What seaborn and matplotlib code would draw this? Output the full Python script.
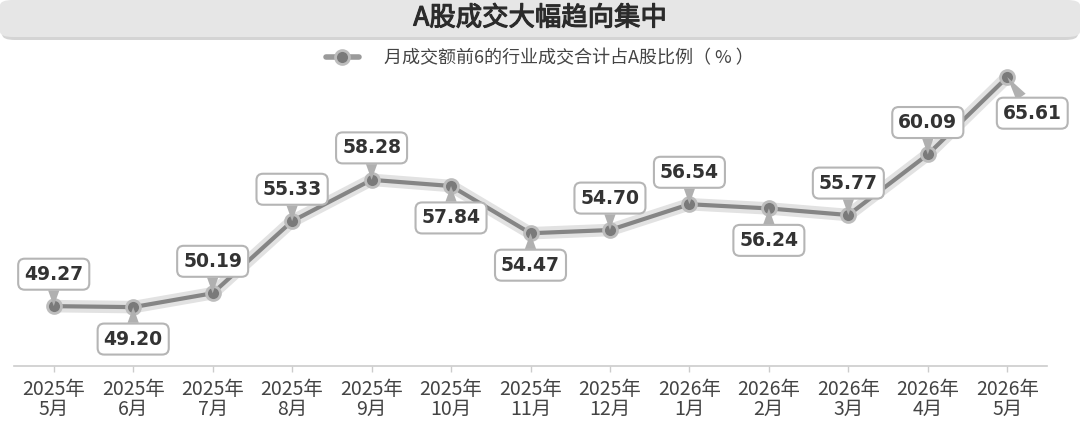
import pandas as pd
import numpy as np
import matplotlib.pyplot as plt
import matplotlib.patheffects as pe
import seaborn as sns
from matplotlib.patches import FancyBboxPatch
from matplotlib.lines import Line2D

# data
months = ['2025年\n5月', '2025年\n6月', '2025年\n7月', '2025年\n8月', '2025年\n9月',
          '2025年\n10月', '2025年\n11月', '2025年\n12月', '2026年\n1月', '2026年\n2月',
          '2026年\n3月', '2026年\n4月', '2026年\n5月']
share = [49.27, 49.20, 50.19, 55.33, 58.28, 57.84, 54.47, 54.70, 56.54, 56.24, 55.77, 60.09, 65.61]
label_side = ['up', 'down', 'up', 'up', 'up', 'down', 'down', 'up', 'up', 'down', 'up', 'up', 'down']
title = 'A股成交大幅趋向集中'
series_name = '月成交额前6的行业成交合计占A股比例（ % ）'

df = pd.DataFrame({'month': months, 'share': share})

sns.set_theme(style='white')
plt.rcParams['font.family'] = ['Noto Sans CJK SC', 'DejaVu Sans']

fig = plt.figure(figsize=(10.8, 4.44), dpi=100)
ax = fig.add_axes([14 / 1080, 78 / 444, 1033 / 1080, 305.6 / 444])

line_col = '#858585'

# glow behind the line
sns.lineplot(data=df, x='month', y='share', ax=ax, color='#e2e2e2', lw=9,
             sort=False, legend=False, solid_capstyle='round')
sns.lineplot(data=df, x='month', y='share', ax=ax, color=line_col, lw=3,
             marker='o', markersize=10, markerfacecolor='#7a7a7a',
             markeredgecolor='#bdbdbd', markeredgewidth=2, sort=False, legend=False)

ax.set_xlim(-0.5, len(months) - 0.5)
ax.set_ylim(45.0, 66.8)
ax.set_xlabel('')
ax.set_ylabel('')
ax.set_yticks([])
for s in ['top', 'right', 'left']:
    ax.spines[s].set_visible(False)
ax.spines['bottom'].set_color('#cccccc')
ax.spines['bottom'].set_linewidth(1.2)
ax.tick_params(axis='x', bottom=True, length=4, width=1, color='#cccccc',
               labelsize=14, labelcolor='#444444', pad=5)
for t in ax.get_xticklabels():
    t.set_linespacing(0.95)

# value callouts
for m, v, side, i in zip(months, share, label_side, range(len(months))):
    dx = 0
    dy = 23 if side == 'up' else -23
    if i == len(months) - 1:
        dx, dy = 18, -26
    ax.annotate(f'{v:.2f}', xy=(m, v), xytext=(dx, dy), textcoords='offset points',
                ha='center', va='center', fontsize=13.5, fontweight='bold',
                family='DejaVu Sans', color='#333333',
                bbox=dict(boxstyle='round,pad=0.32,rounding_size=0.35', fc='white',
                          ec='#b5b5b5', lw=1.5),
                arrowprops=dict(arrowstyle='wedge,tail_width=0.6,shrink_factor=0.5',
                                fc='#b0b0b0', ec='none', shrinkA=0, shrinkB=0),
                zorder=5)

# title bar
shadow = FancyBboxPatch((0.002, 1 - 40 / 444), 0.996, 38 / 444,
                        boxstyle='round,pad=0,rounding_size=0.012',
                        transform=fig.transFigure, fc='#d4d4d4', ec='none', zorder=0)
bar = FancyBboxPatch((0.0, 1 - 37 / 444), 1.0, 37 / 444,
                     boxstyle='round,pad=0,rounding_size=0.012',
                     transform=fig.transFigure, fc='#e6e6e6', ec='none', zorder=1)
fig.patches.extend([shadow, bar])
fig.text(0.5, 1 - 18 / 444, title, ha='center', va='center', fontsize=19,
         color='#2b2b2b', zorder=2,
         path_effects=[pe.withStroke(linewidth=0.8, foreground='#2b2b2b')])

# legend
handle = Line2D([], [], color='#9a9a9a', lw=4, marker='o', markersize=10,
                markerfacecolor='#7a7a7a', markeredgecolor='#bdbdbd', markeredgewidth=2)
fig.legend([handle], [series_name], loc='center', bbox_to_anchor=(0.5, 1 - 58 / 444),
           frameon=False, fontsize=13, handlelength=1.8, handletextpad=1.4,
           labelcolor='#444444')

fig.savefig('out.png', dpi=100)
